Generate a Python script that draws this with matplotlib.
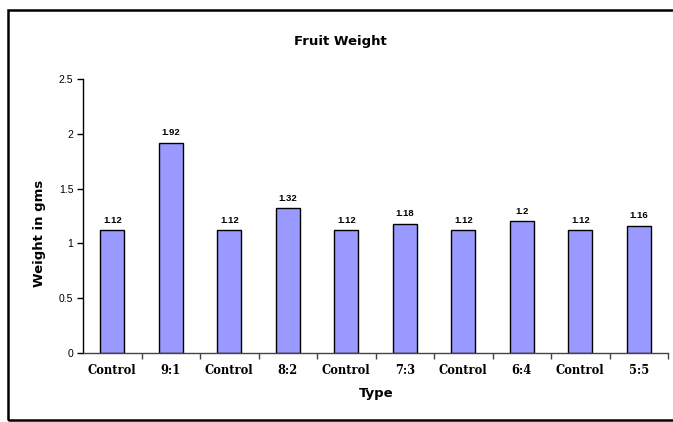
import matplotlib
matplotlib.use("Agg")
import matplotlib.pyplot as plt
from matplotlib.patches import Rectangle
from matplotlib.ticker import FuncFormatter

# data
types = ["Control", "9:1", "Control", "8:2", "Control", "7:3",
         "Control", "6:4", "Control", "5:5"]
weights = [1.12, 1.92, 1.12, 1.32, 1.12, 1.18, 1.12, 1.2, 1.12, 1.16]
y_ticks = [0, 0.5, 1, 1.5, 2, 2.5]

W, H = 673, 422
fig = plt.figure(figsize=(W / 100, H / 100), dpi=100)
ax = fig.add_axes([83 / W, 1 - 352.7 / H, 585 / W, 273.4 / H])

x = list(range(len(types)))
bars = ax.bar(x, weights, width=0.41, color="#9999ff", edgecolor="black", linewidth=1)

for b, v in zip(bars, weights):
    ax.annotate(f"{v:g}", (b.get_x() + b.get_width() / 2, v), xytext=(0, 4),
                textcoords="offset points", ha="center", va="bottom",
                fontsize=6.8, fontweight="bold", family="Liberation Sans")

ax.set_xlim(-0.5, len(types) - 0.5)
ax.set_ylim(0, 2.5)
ax.set_yticks(y_ticks)
ax.yaxis.set_major_formatter(FuncFormatter(lambda v, p: f"{v:g}"))
ax.tick_params(axis="y", direction="out", length=4, width=1, labelsize=7.5, pad=3)
for lab in ax.get_yticklabels():
    lab.set_family("Liberation Sans")

ax.set_xticks(x)
ax.set_xticklabels(types, fontsize=8.3, fontweight="bold", family="DejaVu Serif")
ax.set_xticks([i + 0.5 for i in x], minor=True)
ax.tick_params(axis="x", which="major", length=0, pad=8)
ax.tick_params(axis="x", which="minor", direction="out", length=4, width=1, color="#444444")

ax.spines["top"].set_visible(False)
ax.spines["right"].set_visible(False)
ax.spines["left"].set_linewidth(1)
ax.spines["bottom"].set_linewidth(1)
ax.spines["bottom"].set_color("#444444")

fig.text(340 / W, 1 - 42 / H, "Fruit Weight", ha="center", va="center",
         fontsize=9.5, fontweight="bold", family="DejaVu Sans")
fig.text(376 / W, 1 - 394 / H, "Type", ha="center", va="center",
         fontsize=9.5, fontweight="bold", family="DejaVu Sans")
fig.text(40 / W, 1 - 233 / H, "Weight in gms", ha="center", va="center",
         rotation=90, fontsize=9.5, fontweight="bold", family="DejaVu Sans")

# outer frame (cut off at the right edge)
fig.patches.append(Rectangle((8 / W, 1 - 420 / H), 1.0, 410 / H,
                             transform=fig.transFigure, fill=False,
                             edgecolor="black", linewidth=1.8))

fig.savefig("out.png", dpi=100)
